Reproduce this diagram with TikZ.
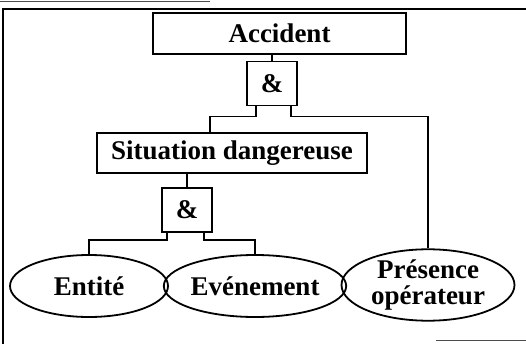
\documentclass[tikz,border=0pt]{standalone}
\usepackage{fontspec}
\setmainfont{Liberation Serif}
\usetikzlibrary{shapes.geometric}
\begin{document}
\begin{tikzpicture}[x=1pt,y=-1pt,
  lbl/.style={font=\fontsize{27}{29}\selectfont\bfseries},
  evbox/.style={draw,line width=1.8pt,lbl,inner sep=0pt},
  gate/.style={draw,line width=1.8pt,lbl,inner sep=0pt,minimum width=50pt,minimum height=44pt},
  leaf/.style={draw,ellipse,line width=1.8pt,lbl,inner sep=0pt,align=center},
  wire/.style={line width=1.5pt},
  frame/.style={line width=1.8pt}]
\useasboundingbox (0,0) rectangle (526,344);
% frame
\coordinate (ftl) at (3,9);
\coordinate (ftr) at (526,9);
\coordinate (fbl) at (3,344);
\draw[frame] (fbl) -- (ftl) -- (ftr);
\coordinate (art1) at (0,1.5);
\coordinate (art2) at (210,1.5);
\draw[line width=0.8pt,black!70] (art1) -- (art2);
\coordinate (art3) at (436,340.5);
\coordinate (art4) at (526,340.5);
\draw[line width=1pt,black!70] (art3) -- (art4);
% nodes
\node[evbox,minimum width=253pt,minimum height=41pt] (acc) at (279.5,33.5) {Accident};
\node[gate] (and1) at (272,83.5) {\&};
\node[evbox,minimum width=270pt,minimum height=40pt] (sit) at (232,153) {Situation dangereuse};
\node[gate] (and2) at (187,210) {\&};
\node[leaf,minimum width=158pt,minimum height=62pt] (ent) at (89,286) {Entité};
\node[leaf,minimum width=166pt,minimum height=62pt] (eve) at (255,286) {Evénement};
\node[leaf,minimum width=173pt,minimum height=65pt] (pre) at (428,285) {Présence\\[-3pt]opérateur};
% connectors
\draw[wire] (acc.south -| and1.north) -- (and1.north);
\draw[wire] ([xshift=-16pt]and1.south) -- ++(0,10) -| ([xshift=-22pt]sit.north);
\draw[wire] ([xshift=19pt]and1.south) -- ++(0,10) -| (pre.north);
\draw[wire] (sit.south -| and2.north) -- (and2.north);
\draw[wire] ([xshift=-20pt]and2.south) -- ++(0,7) -| (ent.north);
\draw[wire] ([xshift=17pt]and2.south) -- ++(0,7) -| (eve.north);
\end{tikzpicture}
\end{document}
